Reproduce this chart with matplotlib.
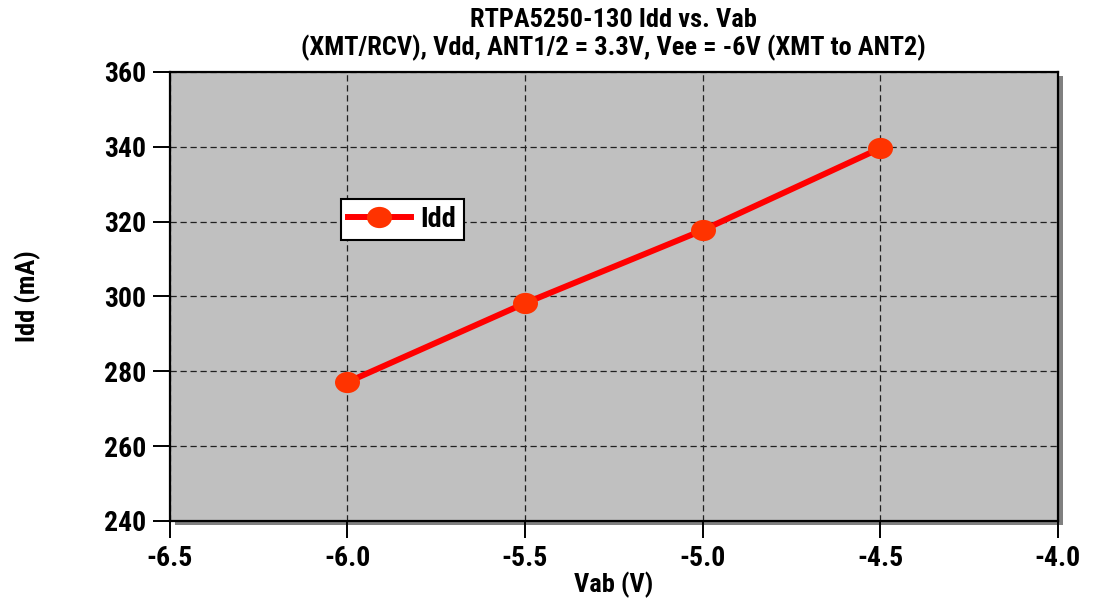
import numpy as np
import matplotlib
matplotlib.use('Agg')
import matplotlib.pyplot as plt
from matplotlib.path import Path
from matplotlib.patches import Rectangle

plt.rcParams['font.family'] = ['Roboto Condensed', 'DejaVu Sans']
plt.rcParams['font.weight'] = 'bold'

vab = [-6.0, -5.5, -5.0, -4.5]
idd = [277.1, 298.2, 317.7, 339.6]
xticks = [-6.5, -6.0, -5.5, -5.0, -4.5, -4.0]
yticks = [240, 260, 280, 300, 320, 340, 360]

# markers in the original are slightly wider than tall
circ = Path.unit_circle()
ellipse = Path(circ.vertices * np.array([1.0, 0.85]), circ.codes)

fig = plt.figure(figsize=(10.96, 5.98), dpi=100)
ax = fig.add_axes([0.155, 0.1288, 0.81, 0.7508])
ax.set_zorder(1)
ax.set_facecolor('#c0c0c0')

# drop shadow behind plot area
pos = ax.get_position()
sx, sy = 5 / 1096, 4 / 598
fig.patches.append(Rectangle((pos.x0 + sx, pos.y0 - sy), pos.width, pos.height,
                             transform=fig.transFigure, facecolor='#808080',
                             edgecolor='none', zorder=-1))

ax.plot(vab, idd, color='#ff0000', linewidth=4.3, marker=ellipse, markersize=18,
        markerfacecolor='#ff3300', markeredgecolor='none', label='Idd', zorder=3)

ax.set_xlim(-6.5, -4.0)
ax.set_ylim(240, 360)
ax.set_xticks(xticks)
ax.set_xticklabels(['%.1f' % v for v in xticks])
ax.set_yticks(yticks)
ax.grid(True, color='#202020', linestyle=(0, (5, 3)), linewidth=0.9)
ax.set_axisbelow(True)

for s in ax.spines.values():
    s.set_linewidth(1.6)
ax.tick_params(direction='out', length=12, width=1.4, labelsize=20, pad=5)

ax.set_xlabel('Vab (V)', fontsize=19, fontweight='bold', labelpad=0)
ax.set_ylabel('Idd (mA)', fontsize=19, fontweight='bold')
ax.yaxis.set_label_coords(-0.145, 0.5)
ax.set_title('RTPA5250-130 Idd vs. Vab\n(XMT/RCV), Vdd, ANT1/2 = 3.3V, Vee = -6V (XMT to ANT2)',
             fontsize=19, fontweight='bold', pad=12, linespacing=1.15)

leg = ax.legend(loc='upper left', bbox_to_anchor=(0.1926, 0.717), fontsize=20.5,
                frameon=True, fancybox=False, borderpad=0.25, handlelength=2.2,
                handletextpad=0.35, borderaxespad=0)
leg.get_frame().set_edgecolor('black')
leg.get_frame().set_linewidth(1.5)
leg.get_frame().set_alpha(1)

fig.savefig('out.png', dpi=100)
